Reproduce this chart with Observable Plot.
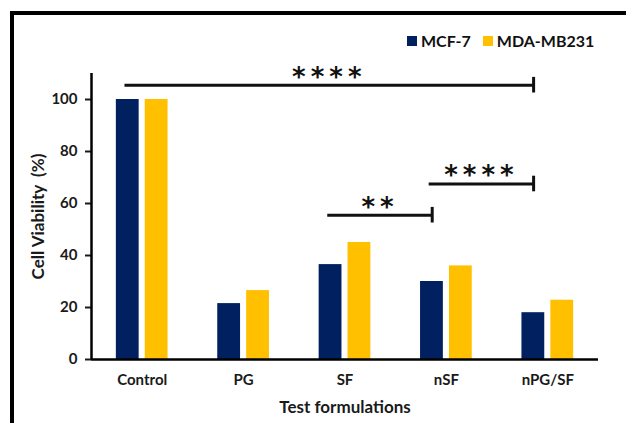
<!DOCTYPE html>
<html>
<head>
<meta charset="utf-8">
<script src="https://cdn.jsdelivr.net/npm/d3@7"></script>
<script src="https://cdn.jsdelivr.net/npm/@observablehq/plot@0.6"></script>
<style>
  html, body { margin: 0; padding: 0; background: #fff; }
  #wrap { position: relative; width: 626px; height: 423px; overflow: hidden; font-family: Lato, "Open Sans", sans-serif; }
  #frame { position: absolute; left: 10px; top: 11px; right: -10px; bottom: -10px; border-top: 4px solid #000; border-left: 4px solid #000; pointer-events: none; }
  #legend { position: absolute; top: 31px; left: 407px; display: flex; align-items: center; font-weight: bold; font-size: 16px; color: #111; }
  #legend .sw { width: 10px; height: 10px; display: inline-block; margin-right: 4px; }
  #legend .it { display: flex; align-items: center; margin-right: 12px; }
  #chart { position: absolute; left: 0; top: 0; }
</style>
</head>
<body>
<div id="wrap">
  <div id="chart"></div>
  <div id="legend"></div>
  <div id="frame"></div>
</div>
<script>
const categories = ["Control", "PG", "SF", "nSF", "nPG/SF"];
const series = ["MCF-7", "MDA-MB231"];
const colors = ["#002060", "#FFC000"];
const mcf7 = [100, 21.5, 36.5, 30, 18];
const mda = [100, 26.5, 45, 36, 22.8];
const yTicks = [0, 20, 40, 60, 80, 100];
const annFrom = ["Control", "SF", "nSF"];
const annTo = ["nPG/SF", "nSF", "nPG/SF"];
const annY = [105.5, 55.5, 67.5];
const annLabel = ["****", "**", "****"];

const barW = 0.225, gap = 0.06;
const data = [];
categories.forEach((c, i) => {
  data.push({cat: c, i, series: series[0], value: mcf7[i], x1: i - gap / 2 - barW, x2: i - gap / 2});
  data.push({cat: c, i, series: series[1], value: mda[i], x1: i + gap / 2, x2: i + gap / 2 + barW});
});
const ann = annFrom.map((f, k) => {
  const a = categories.indexOf(f) - 0.17;
  const b = categories.indexOf(annTo[k]) - 0.14;
  return {x1: a, x2: b, mid: (a + b) / 2, y: annY[k], label: annLabel[k]};
});

const font = "Lato, 'Open Sans', sans-serif";
const plot = Plot.plot({
  width: 626,
  height: 423,
  marginLeft: 91,
  marginRight: 28,
  marginTop: 73,
  marginBottom: 64,
  style: {fontFamily: font, background: "transparent", color: "#1a1a1a"},
  x: {type: "linear", domain: [-0.5, 4.5]},
  y: {domain: [0, 110]},
  color: {domain: series, range: colors},
  marks: [
    Plot.rectY(data, {x1: "x1", x2: "x2", y1: 0, y2: "value", fill: "series"}),
    Plot.axisY({ticks: yTicks, tickSize: 6, strokeWidth: 2, tickPadding: 8, fontSize: 15, fontWeight: "bold",
      label: "Cell Viability  (%)", labelAnchor: "center", labelArrow: "none", labelOffset: 60}),
    Plot.axisX({ticks: [0, 1, 2, 3, 4], tickFormat: i => categories[i], tickSize: 0, tickPadding: 15,
      fontSize: 15, fontWeight: "bold", label: "Test formulations", labelAnchor: "center", labelArrow: "none", labelOffset: 53}),
    Plot.ruleX([-0.5], {y1: 0, y2: 110, stroke: "#000", strokeWidth: 2.5}),
    Plot.ruleY([0], {stroke: "#000", strokeWidth: 2.5}),
    Plot.ruleY(ann, {x1: "x1", x2: "x2", y: "y", stroke: "#111", strokeWidth: 3}),
    Plot.ruleX(ann, {x: "x2", y1: d => d.y - 3, y2: d => d.y + 3, stroke: "#111", strokeWidth: 3}),
    Plot.text(ann, {x: "mid", y: "y", text: "label", dy: -8, fontSize: 26, fontWeight: "bold", fontFamily: "DejaVu Sans", fill: "#111"})
  ]
});
d3.select(plot).selectAll("text").filter(function () { return /\*/.test(this.textContent); })
  .style("letter-spacing", "5px");
d3.select(plot).selectAll("text").filter(function () { return /Cell Viability|Test formulations/.test(this.textContent); })
  .attr("font-size", 17).style("font-size", "17px").style("font-weight", "bold");
document.getElementById("chart").appendChild(plot);

const leg = document.getElementById("legend");
series.forEach((s, k) => {
  const it = document.createElement("span");
  it.className = "it";
  const sw = document.createElement("span");
  sw.className = "sw";
  sw.style.background = colors[k];
  it.appendChild(sw);
  it.appendChild(document.createTextNode(s));
  leg.appendChild(it);
});
</script>
</body>
</html>
